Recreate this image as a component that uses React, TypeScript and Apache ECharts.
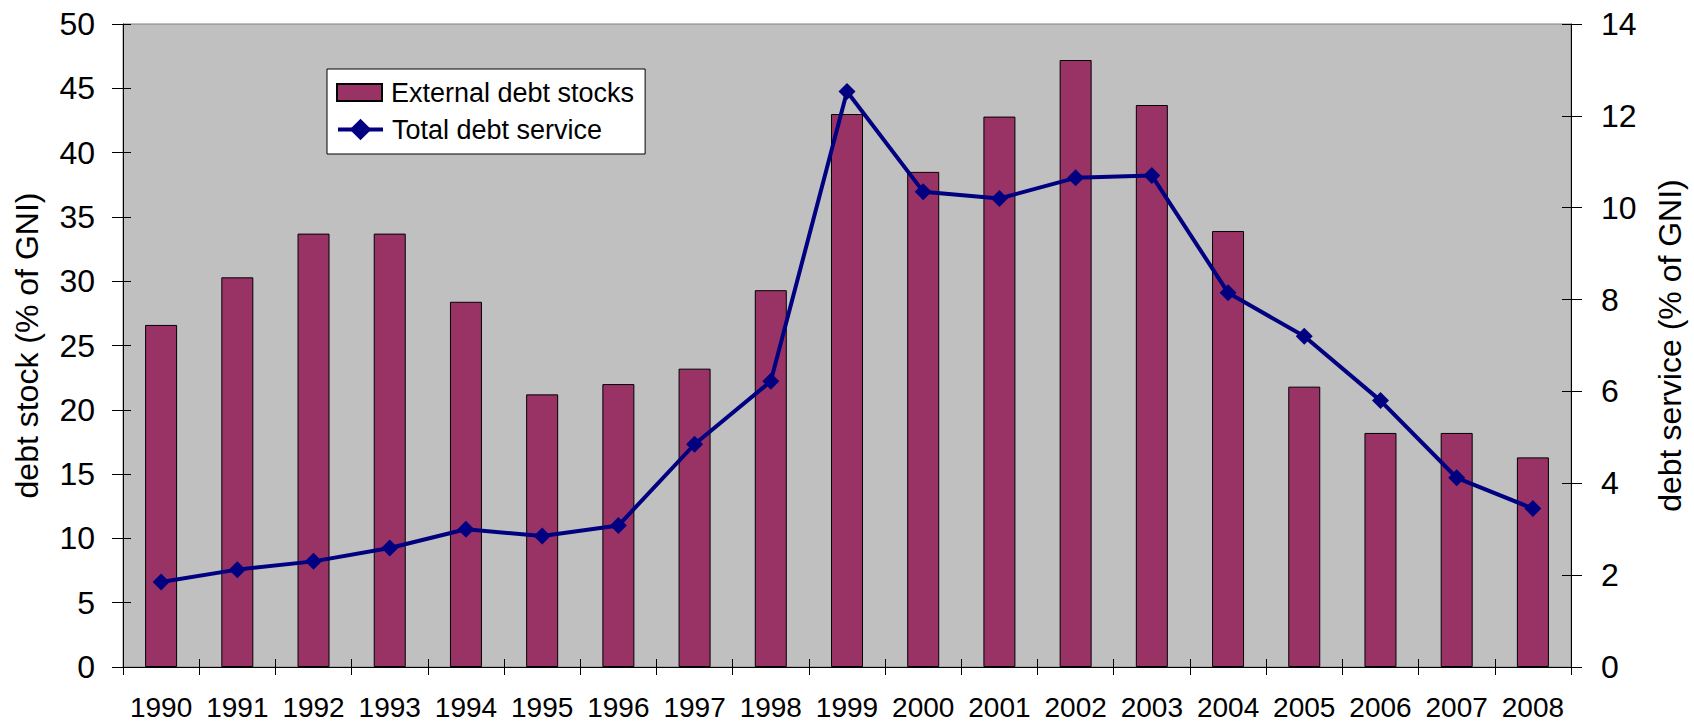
import React, { useEffect, useRef } from "react";
import * as echarts from "echarts";

const years = ["1990","1991","1992","1993","1994","1995","1996","1997","1998","1999","2000","2001","2002","2003","2004","2005","2006","2007","2008"];
const debtStocks = [26.6, 30.3, 33.7, 33.7, 28.4, 21.2, 22.0, 23.2, 29.3, 43.0, 38.5, 42.8, 47.2, 43.7, 33.9, 21.8, 18.2, 18.2, 16.3];
const debtService = [1.85, 2.12, 2.30, 2.59, 3.0, 2.85, 3.08, 4.85, 6.22, 12.53, 10.35, 10.2, 10.65, 10.7, 8.15, 7.2, 5.8, 4.12, 3.45];
const leftName = "debt stock (% of GNI)";
const rightName = "debt service (% of GNI)";
const barName = "External debt stocks";
const lineName = "Total debt service";

const FONT = "Liberation Sans, Arial, sans-serif";
const GRID = { left: 123, right: 121, top: 24, bottom: 54 };
const W = 1694, H = 721;
const GW = W - GRID.left - GRID.right;
const GH = H - GRID.top - GRID.bottom;

export default function App() {
  const ref = useRef<HTMLDivElement>(null);
  useEffect(() => {
    const chart = echarts.init(ref.current!, undefined, { renderer: "svg" });
    const tickStyle = { color: "#000", width: 1 };
    const legendText = { fontFamily: FONT, fontSize: 27, color: "#000", padding: [0, 0, 0, 4] };
    chart.setOption({
      animation: false,
      backgroundColor: "#fff",
      textStyle: { fontFamily: FONT, color: "#000" },
      grid: {
        ...GRID,
        show: true,
        backgroundColor: "#C0C0C0",
        borderColor: "#808080",
        borderWidth: 1,
      },
      legend: [
        {
          left: 327,
          top: 69,
          orient: "vertical",
          backgroundColor: "#fff",
          borderColor: "#000",
          borderWidth: 1,
          borderRadius: 0,
          padding: [10, 11, 48, 9],
          itemWidth: 45,
          itemHeight: 17,
          textStyle: legendText,
          data: [{ name: barName, icon: "rect" }],
          z: 4,
        },
        {
          left: 336,
          top: 116,
          orient: "vertical",
          padding: 0,
          itemWidth: 45,
          itemHeight: 27,
          lineStyle: { width: 4 },
          textStyle: legendText,
          data: [{ name: lineName }],
          z: 5,
        },
      ],
      xAxis: [
        {
          type: "category",
          data: years,
          position: "bottom",
          boundaryGap: true,
          axisLine: { show: true, lineStyle: { color: "#000", width: 1 } },
          axisTick: { show: true, inside: false, length: 8, lineStyle: tickStyle },
          axisLabel: { fontFamily: FONT, fontSize: 28, color: "#000", margin: 26, interval: 0 },
          splitLine: { show: false },
        },
        {
          type: "category",
          data: years,
          position: "top",
          offset: -GH,
          boundaryGap: true,
          axisLine: { show: false, onZero: false },
          axisTick: { show: true, inside: false, length: 8, lineStyle: tickStyle },
          axisLabel: { show: false },
          splitLine: { show: false },
        },
      ],
      yAxis: [
        {
          type: "value",
          position: "left",
          min: 0,
          max: 50,
          interval: 5,
          name: leftName,
          nameLocation: "middle",
          nameRotate: 90,
          nameGap: 80,
          nameTextStyle: { fontFamily: FONT, fontSize: 32, color: "#000" },
          axisLine: { show: true, lineStyle: { color: "#000", width: 1 } },
          axisTick: { show: true, inside: false, length: 11, lineStyle: tickStyle },
          axisLabel: { fontFamily: FONT, fontSize: 32, color: "#000", margin: 28 },
          splitLine: { show: false },
        },
        {
          type: "value",
          position: "right",
          min: 0,
          max: 14,
          interval: 2,
          name: rightName,
          nameLocation: "middle",
          nameRotate: 90,
          nameGap: 83,
          nameTextStyle: { fontFamily: FONT, fontSize: 32, color: "#000" },
          axisLine: { show: true, lineStyle: { color: "#000", width: 1 } },
          axisTick: { show: true, inside: false, length: 11, lineStyle: tickStyle },
          axisLabel: { fontFamily: FONT, fontSize: 32, color: "#000", margin: 30 },
          splitLine: { show: false },
        },
        {
          type: "value",
          position: "right",
          offset: -GW,
          min: 0,
          max: 50,
          interval: 5,
          axisLine: { show: false },
          axisTick: { show: true, inside: false, length: 10, lineStyle: tickStyle },
          axisLabel: { show: false },
          splitLine: { show: false },
        },
        {
          type: "value",
          position: "left",
          offset: -GW,
          min: 0,
          max: 14,
          interval: 2,
          axisLine: { show: false },
          axisTick: { show: true, inside: false, length: 11, lineStyle: tickStyle },
          axisLabel: { show: false },
          splitLine: { show: false },
        },
      ],
      series: [
        {
          name: barName,
          type: "bar",
          xAxisIndex: 0,
          yAxisIndex: 0,
          data: debtStocks,
          barWidth: 32,
          itemStyle: { color: "#993366", borderColor: "#000", borderWidth: 1 },
        },
        {
          name: lineName,
          type: "line",
          xAxisIndex: 0,
          yAxisIndex: 1,
          data: debtService,
          symbol: "diamond",
          symbolSize: 17,
          itemStyle: { color: "#000080" },
          lineStyle: { color: "#000080", width: 4 },
          z: 3,
        },
      ],
    });
    return () => chart.dispose();
  }, []);
  return (
    <div
      ref={ref}
      style={{ position: "fixed", left: 0, top: 0, width: W, height: H }}
    />
  );
}
